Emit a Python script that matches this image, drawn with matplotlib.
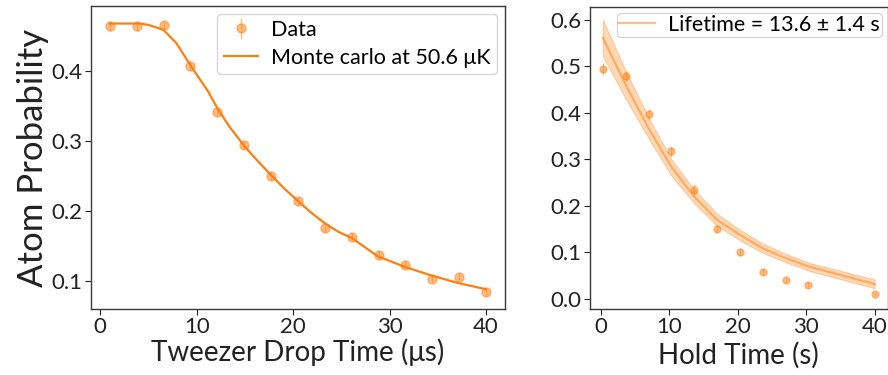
import numpy as np
import matplotlib
matplotlib.use("Agg")
from matplotlib import pyplot as plt

plt.rcParams['font.family'] = ['Lato', 'DejaVu Sans']

# left panel: drop time data + monte carlo
drop_t = [1.0, 3.79, 6.57, 9.36, 12.14, 14.93, 17.71, 20.5, 23.29, 26.07, 28.86, 31.64, 34.43, 37.21, 40.0]
drop_p = [0.463, 0.463, 0.465, 0.407, 0.341, 0.294, 0.250, 0.214, 0.175, 0.163, 0.137, 0.123, 0.103, 0.106, 0.084]
drop_err = [0.006, 0.006, 0.006, 0.006, 0.006, 0.006, 0.006, 0.006, 0.005, 0.005, 0.005, 0.005, 0.005, 0.005, 0.004]

mc_t = [1.0, 4.1, 5.0, 6.56, 7.9, 9.33, 10.36, 11.2, 12.16, 13.4, 14.96, 16.2, 17.77, 19.06,
        20.5, 21.9, 23.3, 24.7, 26.1, 28.8, 31.6, 34.4, 37.2, 40.0]
mc_p = [0.467, 0.467, 0.465, 0.458, 0.439, 0.408, 0.387, 0.370, 0.346, 0.320, 0.292, 0.273, 0.250, 0.232,
        0.214, 0.197, 0.182, 0.170, 0.161, 0.135, 0.120, 0.1075, 0.0967, 0.0882]

# right panel: hold time data + exponential fit band
hold_t = [0.33, 3.67, 7.0, 10.33, 13.67, 17.0, 20.33, 23.67, 27.0, 30.33, 40.0]
hold_p = [0.494, 0.478, 0.397, 0.317, 0.235, 0.151, 0.101, 0.059, 0.041, 0.031, 0.010]
hold_err = [0.013, 0.012, 0.012, 0.012, 0.011, 0.009, 0.008, 0.006, 0.005, 0.005, 0.003]
fit_p = [0.561, 0.460, 0.367, 0.284, 0.220, 0.170, 0.138, 0.109, 0.088, 0.070, 0.032]
fit_hi = [0.600, 0.490, 0.390, 0.300, 0.235, 0.183, 0.149, 0.119, 0.097, 0.078, 0.042]
fit_lo = [0.522, 0.430, 0.345, 0.265, 0.205, 0.157, 0.126, 0.099, 0.079, 0.061, 0.023]

orange = '#ff7f0e'
text_col = '#222222'
spine_col = '#3a3a3a'

fig = plt.figure(figsize=(8.88, 3.75), dpi=100)
ax1 = fig.add_axes([0.1025, 0.176, 0.466, 0.808])
ax2 = fig.add_axes([0.664, 0.176, 0.3356, 0.805])

data1 = ax1.errorbar(drop_t, drop_p, yerr=drop_err, fmt='o', color=orange, alpha=0.5,
                     markersize=6.5, elinewidth=1, label='Data')
mc_line, = ax1.plot(mc_t, mc_p, color=orange, lw=1.6, label='Monte carlo at 50.6 μK')
ax1.set_xlim(-0.95, 41.95)
ax1.set_ylim(0.06, 0.492)
ax1.set_xticks([0, 10, 20, 30, 40])
ax1.set_yticks([0.1, 0.2, 0.3, 0.4])
ax1.set_xlabel('Tweezer Drop Time (μs)', fontsize=20, color=text_col, labelpad=1)
ax1.set_ylabel('Atom Probability', fontsize=25, color=text_col, labelpad=2)
ax1.legend([data1, mc_line], ['Data', 'Monte carlo at 50.6 μK'], loc='upper right',
           fontsize=15.5, borderaxespad=0.35, handlelength=1.6, handletextpad=0.6,
           borderpad=0.3, labelspacing=0.35, framealpha=0.8)

ax2.errorbar(hold_t, hold_p, yerr=hold_err, fmt='o', color=orange, alpha=0.5,
             markersize=5, elinewidth=1)
ax2.fill_between(hold_t, fit_lo, fit_hi, color=orange, alpha=0.3, lw=0.8)
ax2.plot(hold_t, fit_p, color=orange, alpha=0.5, lw=1.6, label='Lifetime = 13.6 ± 1.4 s')
ax2.set_xlim(-1.6, 41.9)
ax2.set_ylim(-0.0215, 0.627)
ax2.set_xticks([0, 10, 20, 30, 40])
ax2.set_yticks([0.0, 0.1, 0.2, 0.3, 0.4, 0.5, 0.6])
ax2.set_xlabel('Hold Time (s)', fontsize=20, color=text_col, labelpad=3)
ax2.legend(loc='upper right', fontsize=15.5, borderaxespad=0.25, handlelength=1.7,
           handletextpad=0.6, borderpad=0.1, framealpha=0.8)

for ax in (ax1, ax2):
    ax.tick_params(labelsize=16, colors=text_col, length=4, width=0.8, pad=2)
    for s in ax.spines.values():
        s.set_color(spine_col)
        s.set_linewidth(1.0)

fig.savefig('out.png', dpi=100)
